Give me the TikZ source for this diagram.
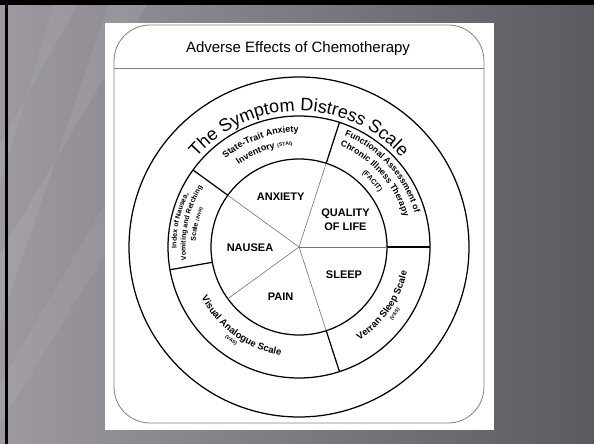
\documentclass[tikz,border=0pt]{standalone}
\usepackage{fontspec}
\setmainfont{Liberation Sans}
\usetikzlibrary{decorations.text}
\newcommand\myarctext[4]{\path[decorate,decoration={text along path,text align=center,text={#4}}] (C) ++(#1:#3) arc[start angle=#1,end angle=#2,radius=#3];}
\begin{document}
\begin{tikzpicture}[x=1pt,y=1pt,
  ringline/.style={line width=1.25pt, black},
  spoke/.style={line width=0.6pt, black!55},
  frameline/.style={line width=0.8pt, black!50},
  lbl/.style={font=\bfseries\fontsize{11}{14.3}\selectfont, align=center, inner sep=0pt},
  titlelbl/.style={font=\fontsize{15}{15}\selectfont, inner sep=0pt, anchor=base},
]
% background
\useasboundingbox (0,0) rectangle (594,444);
\shade[left color={rgb,255:red,158;green,153;blue,161}, right color={rgb,255:red,92;green,90;blue,97}] (0,0) rectangle (594,444);
\fill[white, opacity=0.07] (0,120) -- (0,190) -- (150,444) -- (110,444) -- cycle;
\fill[white, opacity=0.06] (0,260) -- (0,300) -- (80,444) -- (55,444) -- cycle;
\fill[white, opacity=0.05] (0,20) -- (0,60) -- (105,240) -- (105,190) -- cycle;
\fill[black] (0,439) rectangle (594,443.5);
\fill[black] (5,0) rectangle (8,443.5);
% white card
\fill[white] (105,14) rectangle (494,421.3);
\draw[frameline, rounded corners=36] (114,21) rectangle (484,419);
\draw[frameline] (114,375.5) coordinate (hl) -- (484,375.5) coordinate (hr);
\node[titlelbl] (title) at (298,391) {Adverse Effects of Chemotherapy};
% wheel
\coordinate (C) at (299,197);
\draw[ringline] (C) circle[radius=170];
\draw[ringline] (C) circle[radius=131];
\draw[ringline] (C) circle[radius=88];
\foreach \a in {0,72,144,216,288}{
  \draw[spoke] (C) -- ++(\a:88);
}
\foreach \a in {0,72,144,190,288}{
  \draw[ringline] (C) ++(\a:88) -- ++(\a:43);
}
% centre labels
\node[lbl] (anx) at (280.7,247.3) {ANXIETY};
\node[lbl] (qol) at (345.5,224.2) {QUALITY\\OF LIFE};
\node[lbl] (nau) at (250,196.7) {NAUSEA};
\node[lbl] (slp) at (344,169) {SLEEP};
\node[lbl] (pain) at (280.7,147.3) {PAIN};
% outer band title
\myarctext{155}{25}{136}{|\fontsize{18}{18}\selectfont|The Symptom Distress Scale}
% STAI
\myarctext{150}{70}{115}{|\bfseries\fontsize{9}{9}\selectfont|State-Trait Anxiety}
\myarctext{150}{70}{102}{|\bfseries\fontsize{9}{9}\selectfont|Inventory |\bfseries\fontsize{5}{5}\selectfont|(STAI)}
% FACIT
\myarctext{80}{4}{120.5}{|\bfseries\fontsize{8.7}{8.7}\selectfont|Functional Assessment of}
\myarctext{80}{4}{109}{|\bfseries\fontsize{8.7}{8.7}\selectfont|Chronic Illness Therapy}
\myarctext{80}{4}{97}{|\bfseries\fontsize{7}{7}\selectfont|(FACIT)}
% INVR
\myarctext{197.5}{137.5}{122.5}{|\bfseries\fontsize{7}{7}\selectfont|Index of Nausea,}
\myarctext{197.5}{137.5}{113.5}{|\bfseries\fontsize{7}{7}\selectfont|Vomiting and Retching}
\myarctext{197.5}{137.5}{103.5}{|\bfseries\fontsize{7}{7}\selectfont|Scale |\bfseries\fontsize{4.5}{4.5}\selectfont|(INVR)}
% VAS
\myarctext{194}{274}{110}{|\bfseries\fontsize{9.5}{9.5}\selectfont|Visual Analogue Scale}
\myarctext{194}{274}{117}{|\bfseries\fontsize{5}{5}\selectfont|(VAS)}
% VSS
\myarctext{-72}{2}{111}{|\bfseries\fontsize{9.5}{9.5}\selectfont|Verran Sleep Scale}
\myarctext{-72}{2}{118.5}{|\bfseries\fontsize{5}{5}\selectfont|(VSS)}
\end{tikzpicture}
\end{document}
